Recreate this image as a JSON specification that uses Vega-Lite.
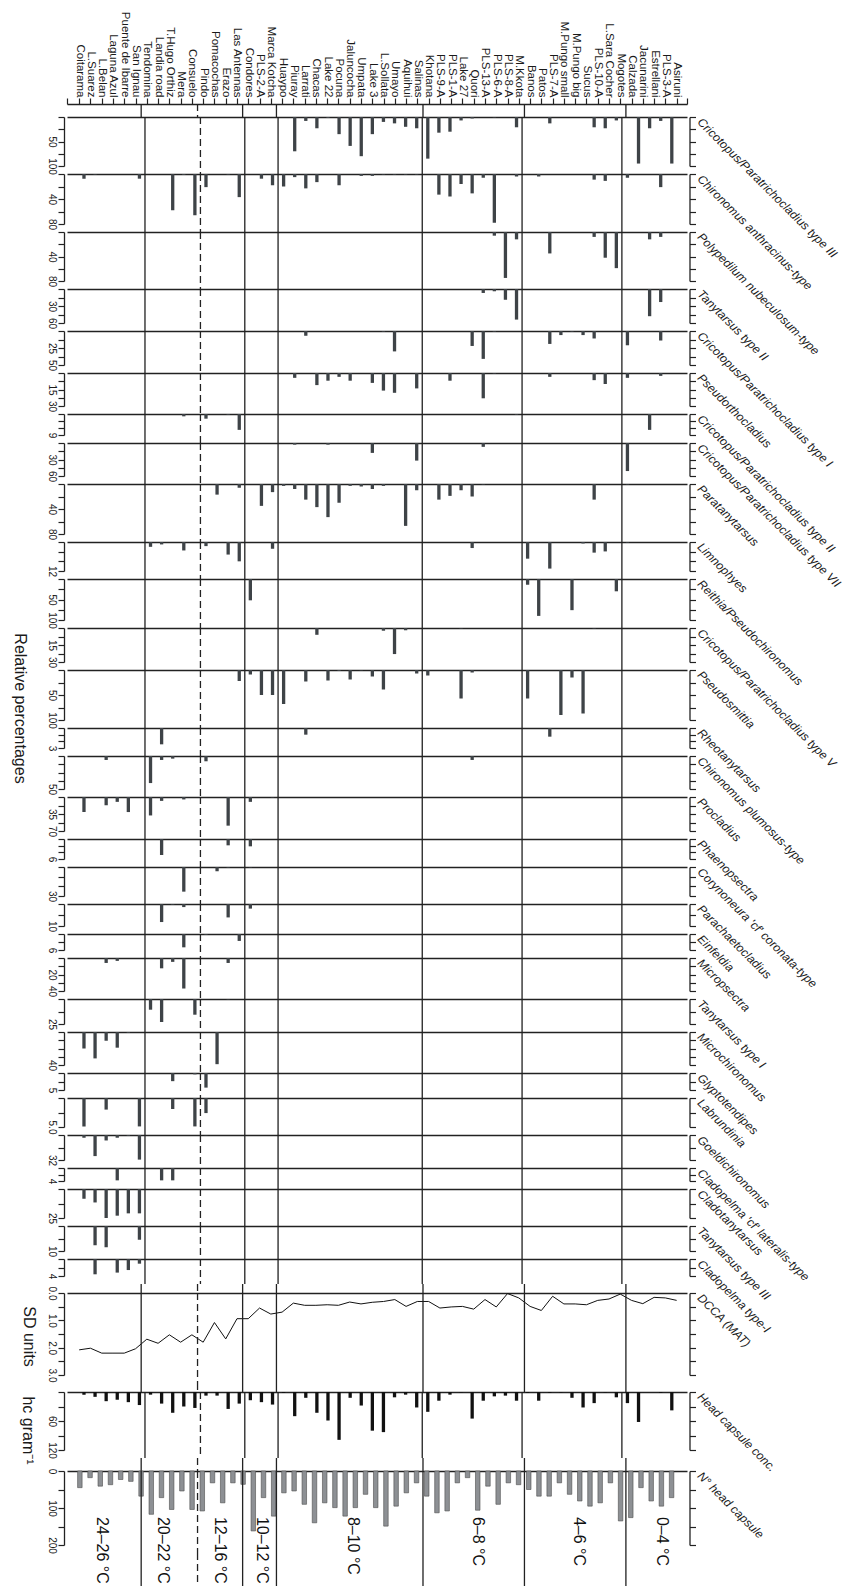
{
"$schema":"https://vega.github.io/schema/vega-lite/v6.json",
"background":"white",
"padding":{"left":10,"top":11,"right":5,"bottom":0},
"spacing":8,
"bounds":"flush",
"resolve":{"scale":{"x":"independent","y":"independent"}},
"data":{"name":"taxa"},
"datasets":{
"div":[{"i":6.5,"d":"s"},{"i":11.5,"d":"d"},{"i":15.5,"d":"s"},{"i":18.5,"d":"s"},{"i":31.5,"d":"s"},{"i":40.5,"d":"s"},{"i":49.5,"d":"s"}],
"zones":[{"zone":"24–26 °C","i":3.0},{"zone":"20–22 °C","i":8.4},{"zone":"12–16 °C","i":13.5},{"zone":"10–12 °C","i":17.2},{"zone":"8–10 °C","i":25.3},{"zone":"6–8 °C","i":36.4},{"zone":"4–6 °C","i":45.3},{"zone":"0–4 °C","i":52.7}],
"dcca":[{"i":1,"sd":2.08},{"i":2,"sd":2.02},{"i":3,"sd":2.2},{"i":4,"sd":2.2},{"i":5,"sd":2.2},{"i":6,"sd":2.04},{"i":7,"sd":1.69},{"i":8,"sd":1.84},{"i":9,"sd":1.53},{"i":10,"sd":1.8},{"i":11,"sd":1.53},{"i":12,"sd":1.8},{"i":13,"sd":1.08},{"i":14,"sd":1.68},{"i":15,"sd":0.94},{"i":16,"sd":0.94},{"i":17,"sd":0.55},{"i":18,"sd":0.77},{"i":19,"sd":0.7},{"i":20,"sd":0.37},{"i":21,"sd":0.45},{"i":22,"sd":0.45},{"i":23,"sd":0.43},{"i":24,"sd":0.45},{"i":25,"sd":0.33},{"i":26,"sd":0.4},{"i":27,"sd":0.34},{"i":28,"sd":0.31},{"i":29,"sd":0.24},{"i":30,"sd":0.49},{"i":31,"sd":0.31},{"i":32,"sd":0.31},{"i":33,"sd":0.55},{"i":34,"sd":0.51},{"i":35,"sd":0.49},{"i":36,"sd":0.59},{"i":37,"sd":0.24},{"i":38,"sd":0.51},{"i":39,"sd":0.02},{"i":40,"sd":0.18},{"i":41,"sd":0.49},{"i":42,"sd":0.64},{"i":43,"sd":0.12},{"i":44,"sd":0.4},{"i":45,"sd":0.4},{"i":46,"sd":0.43},{"i":47,"sd":0.27},{"i":48,"sd":0.22},{"i":49,"sd":0.04},{"i":50,"sd":0.27},{"i":51,"sd":0.39},{"i":52,"sd":0.16},{"i":53,"sd":0.18},{"i":54,"sd":0.27}],
"hc":[{"i":1,"hc":5.5},{"i":2,"hc":10},{"i":3,"hc":19},{"i":4,"hc":16},{"i":5,"hc":21},{"i":6,"hc":27},{"i":7,"hc":5.5},{"i":8,"hc":24},{"i":9,"hc":43},{"i":10,"hc":30},{"i":11,"hc":33},{"i":12,"hc":7.5},{"i":13,"hc":7.5},{"i":14,"hc":35},{"i":15,"hc":24},{"i":16,"hc":17},{"i":17,"hc":21},{"i":18,"hc":26},{"i":19,"hc":2},{"i":20,"hc":50},{"i":21,"hc":12},{"i":22,"hc":43},{"i":23,"hc":59},{"i":24,"hc":99},{"i":25,"hc":12},{"i":26,"hc":28},{"i":27,"hc":80},{"i":28,"hc":83},{"i":29,"hc":11},{"i":30,"hc":5.5},{"i":31,"hc":32},{"i":32,"hc":41},{"i":33,"hc":18},{"i":34,"hc":5.5},{"i":35,"hc":1},{"i":36,"hc":55},{"i":37,"hc":18},{"i":38,"hc":9},{"i":39,"hc":7.5},{"i":40,"hc":18},{"i":41,"hc":2},{"i":42,"hc":18},{"i":43,"hc":2},{"i":44,"hc":1},{"i":45,"hc":12},{"i":46,"hc":32},{"i":47,"hc":23},{"i":48,"hc":1},{"i":49,"hc":11},{"i":50,"hc":23},{"i":51,"hc":62},{"i":53,"hc":2},{"i":54,"hc":38}],
"nhc":[{"k":1,"n":45},{"k":2,"n":18},{"k":3,"n":41},{"k":4,"n":37},{"k":5,"n":23},{"k":6,"n":28},{"k":7,"n":68},{"k":8,"n":117},{"k":9,"n":72},{"k":10,"n":104},{"k":11,"n":54},{"k":12,"n":104},{"k":13,"n":108},{"k":14,"n":32},{"k":15,"n":86},{"k":16,"n":32},{"k":17,"n":36},{"k":18,"n":162},{"k":19,"n":72},{"k":20,"n":122},{"k":21,"n":59},{"k":22,"n":54},{"k":23,"n":90},{"k":24,"n":140},{"k":25,"n":86},{"k":26,"n":99},{"k":27,"n":122},{"k":28,"n":99},{"k":29,"n":63},{"k":30,"n":99},{"k":31,"n":149},{"k":32,"n":95},{"k":33,"n":59},{"k":34,"n":32},{"k":35,"n":68},{"k":36,"n":113},{"k":37,"n":108},{"k":38,"n":32},{"k":39,"n":18},{"k":40,"n":106},{"k":41,"n":41},{"k":42,"n":90},{"k":43,"n":32},{"k":44,"n":37},{"k":45,"n":50},{"k":46,"n":68},{"k":47,"n":68},{"k":48,"n":32},{"k":49,"n":63},{"k":50,"n":81},{"k":51,"n":95},{"k":52,"n":86},{"k":53,"n":32},{"k":54,"n":135},{"k":55,"n":126},{"k":56,"n":45},{"k":57,"n":81},{"k":58,"n":95},{"k":59,"n":72}],
"taxa":[
{"t":"Cricotopus/Paratrichocladius type III","i":20,"v":70},{"t":"Cricotopus/Paratrichocladius type III","i":21,"v":8},{"t":"Cricotopus/Paratrichocladius type III","i":22,"v":23},{"t":"Cricotopus/Paratrichocladius type III","i":23,"v":2},{"t":"Cricotopus/Paratrichocladius type III","i":24,"v":35},{"t":"Cricotopus/Paratrichocladius type III","i":25,"v":59},{"t":"Cricotopus/Paratrichocladius type III","i":26,"v":80},{"t":"Cricotopus/Paratrichocladius type III","i":27,"v":35},{"t":"Cricotopus/Paratrichocladius type III","i":28,"v":10},{"t":"Cricotopus/Paratrichocladius type III","i":29,"v":13},{"t":"Cricotopus/Paratrichocladius type III","i":30,"v":20},{"t":"Cricotopus/Paratrichocladius type III","i":31,"v":23},{"t":"Cricotopus/Paratrichocladius type III","i":32,"v":85},{"t":"Cricotopus/Paratrichocladius type III","i":33,"v":32},{"t":"Cricotopus/Paratrichocladius type III","i":34,"v":30},{"t":"Cricotopus/Paratrichocladius type III","i":35,"v":7},{"t":"Cricotopus/Paratrichocladius type III","i":36,"v":3},{"t":"Cricotopus/Paratrichocladius type III","i":38,"v":1},{"t":"Cricotopus/Paratrichocladius type III","i":40,"v":21},{"t":"Cricotopus/Paratrichocladius type III","i":43,"v":13},{"t":"Cricotopus/Paratrichocladius type III","i":47,"v":21},{"t":"Cricotopus/Paratrichocladius type III","i":48,"v":23},{"t":"Cricotopus/Paratrichocladius type III","i":49,"v":7},{"t":"Cricotopus/Paratrichocladius type III","i":51,"v":95},{"t":"Cricotopus/Paratrichocladius type III","i":52,"v":23},{"t":"Cricotopus/Paratrichocladius type III","i":53,"v":8},{"t":"Cricotopus/Paratrichocladius type III","i":54,"v":95},
{"t":"Chironomus anthracinus-type","i":1,"v":7.5},{"t":"Chironomus anthracinus-type","i":2,"v":1},{"t":"Chironomus anthracinus-type","i":6,"v":7.5},{"t":"Chironomus anthracinus-type","i":9,"v":58},{"t":"Chironomus anthracinus-type","i":10,"v":1.5},{"t":"Chironomus anthracinus-type","i":11,"v":66},{"t":"Chironomus anthracinus-type","i":12,"v":21},{"t":"Chironomus anthracinus-type","i":14,"v":1},{"t":"Chironomus anthracinus-type","i":15,"v":37},{"t":"Chironomus anthracinus-type","i":17,"v":7.5},{"t":"Chironomus anthracinus-type","i":18,"v":18},{"t":"Chironomus anthracinus-type","i":19,"v":20},{"t":"Chironomus anthracinus-type","i":20,"v":5},{"t":"Chironomus anthracinus-type","i":21,"v":23},{"t":"Chironomus anthracinus-type","i":22,"v":13},{"t":"Chironomus anthracinus-type","i":24,"v":18},{"t":"Chironomus anthracinus-type","i":26,"v":3},{"t":"Chironomus anthracinus-type","i":27,"v":3},{"t":"Chironomus anthracinus-type","i":28,"v":1},{"t":"Chironomus anthracinus-type","i":29,"v":1},{"t":"Chironomus anthracinus-type","i":30,"v":1},{"t":"Chironomus anthracinus-type","i":31,"v":1},{"t":"Chironomus anthracinus-type","i":33,"v":33},{"t":"Chironomus anthracinus-type","i":34,"v":36},{"t":"Chironomus anthracinus-type","i":35,"v":16},{"t":"Chironomus anthracinus-type","i":36,"v":31},{"t":"Chironomus anthracinus-type","i":37,"v":6},{"t":"Chironomus anthracinus-type","i":38,"v":78},{"t":"Chironomus anthracinus-type","i":40,"v":4},{"t":"Chironomus anthracinus-type","i":42,"v":4},{"t":"Chironomus anthracinus-type","i":47,"v":9},{"t":"Chironomus anthracinus-type","i":48,"v":11},{"t":"Chironomus anthracinus-type","i":50,"v":6},{"t":"Chironomus anthracinus-type","i":53,"v":21},
{"t":"Polypedilum nubeculosum-type","i":38,"v":6},{"t":"Polypedilum nubeculosum-type","i":39,"v":75},{"t":"Polypedilum nubeculosum-type","i":40,"v":12},{"t":"Polypedilum nubeculosum-type","i":43,"v":35},{"t":"Polypedilum nubeculosum-type","i":47,"v":8},{"t":"Polypedilum nubeculosum-type","i":48,"v":42},{"t":"Polypedilum nubeculosum-type","i":49,"v":59},{"t":"Polypedilum nubeculosum-type","i":52,"v":12},{"t":"Polypedilum nubeculosum-type","i":53,"v":8},
{"t":"Tanytarsus type II","i":37,"v":7},{"t":"Tanytarsus type II","i":38,"v":4},{"t":"Tanytarsus type II","i":39,"v":19},{"t":"Tanytarsus type II","i":40,"v":54},{"t":"Tanytarsus type II","i":52,"v":48},{"t":"Tanytarsus type II","i":53,"v":23},
{"t":"Cricotopus/Paratrichocladius type I","i":21,"v":7},{"t":"Cricotopus/Paratrichocladius type I","i":28,"v":1},{"t":"Cricotopus/Paratrichocladius type I","i":29,"v":30},{"t":"Cricotopus/Paratrichocladius type I","i":36,"v":22},{"t":"Cricotopus/Paratrichocladius type I","i":37,"v":41},{"t":"Cricotopus/Paratrichocladius type I","i":38,"v":1},{"t":"Cricotopus/Paratrichocladius type I","i":43,"v":19},{"t":"Cricotopus/Paratrichocladius type I","i":44,"v":6},{"t":"Cricotopus/Paratrichocladius type I","i":45,"v":1},{"t":"Cricotopus/Paratrichocladius type I","i":46,"v":6},{"t":"Cricotopus/Paratrichocladius type I","i":47,"v":11},{"t":"Cricotopus/Paratrichocladius type I","i":50,"v":21},{"t":"Cricotopus/Paratrichocladius type I","i":53,"v":14},
{"t":"Pseudorthocladius","i":20,"v":4.4},{"t":"Pseudorthocladius","i":22,"v":11},{"t":"Pseudorthocladius","i":23,"v":7},{"t":"Pseudorthocladius","i":24,"v":3.5},{"t":"Pseudorthocladius","i":25,"v":7},{"t":"Pseudorthocladius","i":27,"v":9},{"t":"Pseudorthocladius","i":28,"v":16},{"t":"Pseudorthocladius","i":29,"v":18},{"t":"Pseudorthocladius","i":31,"v":14},{"t":"Pseudorthocladius","i":34,"v":7},{"t":"Pseudorthocladius","i":37,"v":23},{"t":"Pseudorthocladius","i":38,"v":0.5},{"t":"Pseudorthocladius","i":43,"v":3.5},{"t":"Pseudorthocladius","i":47,"v":6.5},{"t":"Pseudorthocladius","i":48,"v":10},{"t":"Pseudorthocladius","i":50,"v":4.4},{"t":"Pseudorthocladius","i":53,"v":2.6},
{"t":"Cricotopus/Paratrichocladius type II","i":10,"v":1},{"t":"Cricotopus/Paratrichocladius type II","i":12,"v":2},{"t":"Cricotopus/Paratrichocladius type II","i":14,"v":0.3},{"t":"Cricotopus/Paratrichocladius type II","i":15,"v":6.8},{"t":"Cricotopus/Paratrichocladius type II","i":40,"v":0.3},{"t":"Cricotopus/Paratrichocladius type II","i":52,"v":6.8},
{"t":"Cricotopus/Paratrichocladius type VII","i":20,"v":3},{"t":"Cricotopus/Paratrichocladius type VII","i":23,"v":3},{"t":"Cricotopus/Paratrichocladius type VII","i":27,"v":18},{"t":"Cricotopus/Paratrichocladius type VII","i":31,"v":32},{"t":"Cricotopus/Paratrichocladius type VII","i":37,"v":7},{"t":"Cricotopus/Paratrichocladius type VII","i":50,"v":51},
{"t":"Paratanytarsus","i":13,"v":17},{"t":"Paratanytarsus","i":15,"v":6},{"t":"Paratanytarsus","i":17,"v":35},{"t":"Paratanytarsus","i":18,"v":13},{"t":"Paratanytarsus","i":19,"v":3},{"t":"Paratanytarsus","i":20,"v":8},{"t":"Paratanytarsus","i":21,"v":25},{"t":"Paratanytarsus","i":22,"v":37},{"t":"Paratanytarsus","i":23,"v":53},{"t":"Paratanytarsus","i":24,"v":30},{"t":"Paratanytarsus","i":25,"v":3},{"t":"Paratanytarsus","i":26,"v":4},{"t":"Paratanytarsus","i":27,"v":8},{"t":"Paratanytarsus","i":28,"v":3},{"t":"Paratanytarsus","i":30,"v":67},{"t":"Paratanytarsus","i":31,"v":10},{"t":"Paratanytarsus","i":33,"v":25},{"t":"Paratanytarsus","i":34,"v":19},{"t":"Paratanytarsus","i":35,"v":10},{"t":"Paratanytarsus","i":36,"v":20},{"t":"Paratanytarsus","i":37,"v":1},{"t":"Paratanytarsus","i":47,"v":25},{"t":"Paratanytarsus","i":50,"v":1},
{"t":"Limnophyes","i":7,"v":2},{"t":"Limnophyes","i":8,"v":1},{"t":"Limnophyes","i":10,"v":3.5},{"t":"Limnophyes","i":12,"v":1.7},{"t":"Limnophyes","i":14,"v":5.2},{"t":"Limnophyes","i":15,"v":8},{"t":"Limnophyes","i":18,"v":2.8},{"t":"Limnophyes","i":36,"v":2.5},{"t":"Limnophyes","i":41,"v":6.9},{"t":"Limnophyes","i":43,"v":11},{"t":"Limnophyes","i":46,"v":0.6},{"t":"Limnophyes","i":47,"v":4.4},{"t":"Limnophyes","i":48,"v":3.9},{"t":"Limnophyes","i":50,"v":0.3},
{"t":"Reithia/Pseudochironomus","i":16,"v":52},{"t":"Reithia/Pseudochironomus","i":41,"v":14},{"t":"Reithia/Pseudochironomus","i":42,"v":90},{"t":"Reithia/Pseudochironomus","i":45,"v":76},{"t":"Reithia/Pseudochironomus","i":49,"v":30},
{"t":"Cricotopus/Paratrichocladius type V","i":22,"v":6},{"t":"Cricotopus/Paratrichocladius type V","i":28,"v":2.4},{"t":"Cricotopus/Paratrichocladius type V","i":29,"v":23},{"t":"Cricotopus/Paratrichocladius type V","i":30,"v":2},{"t":"Cricotopus/Paratrichocladius type V","i":35,"v":0.5},{"t":"Cricotopus/Paratrichocladius type V","i":47,"v":0.5},
{"t":"Pseudosmittia","i":15,"v":22},{"t":"Pseudosmittia","i":16,"v":9},{"t":"Pseudosmittia","i":17,"v":50},{"t":"Pseudosmittia","i":18,"v":50},{"t":"Pseudosmittia","i":19,"v":68},{"t":"Pseudosmittia","i":21,"v":23},{"t":"Pseudosmittia","i":23,"v":21},{"t":"Pseudosmittia","i":24,"v":2},{"t":"Pseudosmittia","i":25,"v":19},{"t":"Pseudosmittia","i":26,"v":1},{"t":"Pseudosmittia","i":27,"v":13},{"t":"Pseudosmittia","i":28,"v":39},{"t":"Pseudosmittia","i":31,"v":7},{"t":"Pseudosmittia","i":32,"v":11},{"t":"Pseudosmittia","i":35,"v":57},{"t":"Pseudosmittia","i":36,"v":5},{"t":"Pseudosmittia","i":41,"v":57},{"t":"Pseudosmittia","i":44,"v":90},{"t":"Pseudosmittia","i":45,"v":15},{"t":"Pseudosmittia","i":46,"v":87},
{"t":"Rheotanytarsus","i":8,"v":2.45},{"t":"Rheotanytarsus","i":21,"v":1},{"t":"Rheotanytarsus","i":43,"v":1.3},
{"t":"Chironomus plumosus-type","i":3,"v":6},{"t":"Chironomus plumosus-type","i":7,"v":41},{"t":"Chironomus plumosus-type","i":8,"v":6},{"t":"Chironomus plumosus-type","i":9,"v":4},{"t":"Chironomus plumosus-type","i":12,"v":8},{"t":"Chironomus plumosus-type","i":36,"v":6},
{"t":"Procladius","i":1,"v":31},{"t":"Procladius","i":3,"v":17},{"t":"Procladius","i":4,"v":10},{"t":"Procladius","i":5,"v":31},{"t":"Procladius","i":7,"v":38},{"t":"Procladius","i":8,"v":8},{"t":"Procladius","i":10,"v":5},{"t":"Procladius","i":14,"v":59},{"t":"Procladius","i":16,"v":10},{"t":"Procladius","i":18,"v":1},
{"t":"Phaenopsectra","i":8,"v":4.8},{"t":"Phaenopsectra","i":14,"v":1.9},{"t":"Phaenopsectra","i":16,"v":2.2},
{"t":"Corynoneura 'cf' coronata-type","i":10,"v":25.5},{"t":"Corynoneura 'cf' coronata-type","i":13,"v":4.4},{"t":"Corynoneura 'cf' coronata-type","i":14,"v":0.7},{"t":"Corynoneura 'cf' coronata-type","i":16,"v":0.5},
{"t":"Parachaetocladius","i":8,"v":8.2},{"t":"Parachaetocladius","i":9,"v":0.3},{"t":"Parachaetocladius","i":10,"v":1.4},{"t":"Parachaetocladius","i":14,"v":6.1},{"t":"Parachaetocladius","i":16,"v":2.1},
{"t":"Einfeldia","i":10,"v":5},{"t":"Einfeldia","i":12,"v":0.3},{"t":"Einfeldia","i":15,"v":2.6},
{"t":"Micropsectra","i":3,"v":6},{"t":"Micropsectra","i":4,"v":3.5},{"t":"Micropsectra","i":8,"v":12.5},{"t":"Micropsectra","i":9,"v":4.7},{"t":"Micropsectra","i":10,"v":37},{"t":"Micropsectra","i":14,"v":6},
{"t":"Tanytarsus type I","i":7,"v":10.7},{"t":"Tanytarsus type I","i":8,"v":23},{"t":"Tanytarsus type I","i":11,"v":15.7},{"t":"Tanytarsus type I","i":14,"v":0.5},
{"t":"Microchironomus","i":1,"v":20},{"t":"Microchironomus","i":2,"v":32},{"t":"Microchironomus","i":3,"v":10.6},{"t":"Microchironomus","i":4,"v":19},{"t":"Microchironomus","i":5,"v":1},{"t":"Microchironomus","i":13,"v":39},
{"t":"Glyptotendipes","i":9,"v":2.4},{"t":"Glyptotendipes","i":11,"v":0.4},{"t":"Glyptotendipes","i":12,"v":4.3},
{"t":"Labrundinia","i":1,"v":4.9},{"t":"Labrundinia","i":3,"v":2},{"t":"Labrundinia","i":6,"v":4.9},{"t":"Labrundinia","i":9,"v":1.9},{"t":"Labrundinia","i":11,"v":4.9},{"t":"Labrundinia","i":12,"v":2.6},
{"t":"Goeldichironomus","i":1,"v":3.5},{"t":"Goeldichironomus","i":2,"v":27},{"t":"Goeldichironomus","i":3,"v":7},{"t":"Goeldichironomus","i":4,"v":3.5},{"t":"Goeldichironomus","i":5,"v":1},{"t":"Goeldichironomus","i":6,"v":31.5},{"t":"Goeldichironomus","i":12,"v":0.5},
{"t":"Cladopelma 'cf' lateralis-type","i":4,"v":3.8},{"t":"Cladopelma 'cf' lateralis-type","i":8,"v":3.8},{"t":"Cladopelma 'cf' lateralis-type","i":9,"v":3.8},
{"t":"Cladotanytarsus","i":1,"v":8.5},{"t":"Cladotanytarsus","i":2,"v":11.6},{"t":"Cladotanytarsus","i":3,"v":25},{"t":"Cladotanytarsus","i":4,"v":23},{"t":"Cladotanytarsus","i":5,"v":21},{"t":"Cladotanytarsus","i":6,"v":21},
{"t":"Tanytarsus type III","i":2,"v":7.7},{"t":"Tanytarsus type III","i":3,"v":8.5},{"t":"Tanytarsus type III","i":6,"v":5.5},
{"t":"Cladopelma type-I","i":2,"v":3.6},{"t":"Cladopelma type-I","i":4,"v":3.2},{"t":"Cladopelma type-I","i":5,"v":2.6},{"t":"Cladopelma type-I","i":6,"v":1.1}
]},
"config":{
"font":"Liberation Sans",
"view":{"stroke":null,"continuousWidth":620},
"axis":{"grid":false,"domainColor":"#222","tickColor":"#222","domainWidth":1.3,"tickWidth":1.2,"labelColor":"#1a1a1a","titleColor":"#1a1a1a","titleFontWeight":"normal","labelOverlap":false,"labelBound":false,"labelFlush":false,"labelFont":"Liberation Sans","titleFont":"Liberation Sans"},
"axisTop":{"ticks":false,"labels":false},
"axisLeft":{"offset":3,"tickSize":6,"labelAngle":90,"labelAlign":"center","labelBaseline":"top","labelPadding":2,"labelFontSize":10,"titleAngle":90,"titleAlign":"center","titleBaseline":"middle","titleFontSize":16},
"axisRight":{"offset":2.5,"tickSize":6,"labels":false,"titleAngle":45,"titleAlign":"left","titleBaseline":"top","titleX":13,"titleY":-1,"titleFontSize":12,"titleFontStyle":"italic"}
},
"vconcat":[
{"height":5,"data":{"name":"div"},"mark":{"type":"rule","y2Offset":8,"color":"#222","strokeWidth":1.3},"encoding":{"x":{"field":"i","type":"quantitative","scale":{"domain":[-0.08,54.92],"nice":false,"zero":false},"axis":{"orient":"top","title":null,"ticks":true,"labels":true,"tickSize":6,"values":[-0.08,1,2,3,4,5,6,7,8,9,10,11,12,13,14,15,16,17,18,19,20,21,22,23,24,25,26,27,28,29,30,31,32,33,34,35,36,37,38,39,40,41,42,43,44,45,46,47,48,49,50,51,52,53,54,54.92],"labelAngle":90,"labelAlign":"right","labelBaseline":"middle","labelPadding":1,"labelFontSize":11.5,"labelExpr":"datum.value%1!=0?'':['Coitarama','L.Suarez','L.Belan','Laguna Azul','Puente de Ibarre','San Ignau','Tendomina','Landia road','T.Hugo Orthiz','Mera','Consuelo','Pindo','Pomacochas','Erazo','Las Antennas','Condores','PLS-2-A','Marca Kotcha','Huaypo','Piuray','Larrati','Chacas','Lake 22','Pocuna','Jaluncocha','Umpata','Lake 3','L.Sollata','Umayo','Aquihui','Salinas','Khotana','PLS-9-A','PLS-1-A','Lake 27','Quori','PLS-13-A','PLS-6-A','PLS-8-A','M.Kkota','Banos','Patos','PLS-7-A','M.Pungo small','M.Pungo big','Sucus','PLS-10-A','L.Sara Cocher','Mogotes','Calzada','Jacunarini','Estrellani','PLS-3-A','Asiruni'][datum.value-1]"}},"y2":{"value":"height"},"strokeDash":{"field":"d","type":"nominal","scale":{"domain":["s","d"],"range":[[1,0],[7,4]]},"legend":null}}},

{"height":49,"transform":[{"filter":{"field":"t","equal":"Cricotopus/Paratrichocladius type III"}}],"encoding":{"x":{"field":"i","type":"quantitative","scale":{"domain":[-0.08,54.92],"nice":false,"zero":false},"axis":{"orient":"top","title":null}}},"layer":[{"mark":{"type":"bar","size":3.3,"color":"#3e4347","orient":"vertical"},"encoding":{"y":{"field":"v","type":"quantitative","scale":{"domain":[0,100],"reverse":true,"nice":false},"axis":{"orient":"left","title":null,"values":[0,25,50,75,100],"labelExpr":"datum.value==50||datum.value==100?datum.label:''"}}}},{"mark":{"type":"bar","opacity":0,"orient":"vertical"},"encoding":{"y":{"field":"v","type":"quantitative","axis":{"orient":"right","title":"Cricotopus/Paratrichocladius type III","values":[0,25,50,75,100]}}}},{"data":{"name":"div"},"mark":{"type":"rule","y2Offset":8,"color":"#222","strokeWidth":1.3},"encoding":{"y2":{"value":"height"},"strokeDash":{"field":"d","type":"nominal","scale":{"domain":["s","d"],"range":[[1,0],[7,4]]},"legend":null}}}],"resolve":{"axis":{"y":"independent"}}},

{"height":50,"transform":[{"filter":{"field":"t","equal":"Chironomus anthracinus-type"}}],"encoding":{"x":{"field":"i","type":"quantitative","scale":{"domain":[-0.08,54.92],"nice":false,"zero":false},"axis":{"orient":"top","title":null}}},"layer":[{"mark":{"type":"bar","size":3.3,"color":"#3e4347","orient":"vertical"},"encoding":{"y":{"field":"v","type":"quantitative","scale":{"domain":[0,80],"reverse":true,"nice":false},"axis":{"orient":"left","title":null,"values":[0,20,40,60,80],"labelExpr":"datum.value==40||datum.value==80?datum.label:''"}}}},{"mark":{"type":"bar","opacity":0,"orient":"vertical"},"encoding":{"y":{"field":"v","type":"quantitative","axis":{"orient":"right","title":"Chironomus anthracinus-type","values":[0,20,40,60,80]}}}},{"data":{"name":"div"},"mark":{"type":"rule","y2Offset":8,"color":"#222","strokeWidth":1.3},"encoding":{"y2":{"value":"height"},"strokeDash":{"field":"d","type":"nominal","scale":{"domain":["s","d"],"range":[[1,0],[7,4]]},"legend":null}}}],"resolve":{"axis":{"y":"independent"}}},

{"height":49,"transform":[{"filter":{"field":"t","equal":"Polypedilum nubeculosum-type"}}],"encoding":{"x":{"field":"i","type":"quantitative","scale":{"domain":[-0.08,54.92],"nice":false,"zero":false},"axis":{"orient":"top","title":null}}},"layer":[{"mark":{"type":"bar","size":3.3,"color":"#3e4347","orient":"vertical"},"encoding":{"y":{"field":"v","type":"quantitative","scale":{"domain":[0,80],"reverse":true,"nice":false},"axis":{"orient":"left","title":null,"values":[0,20,40,60,80],"labelExpr":"datum.value==40||datum.value==80?datum.label:''"}}}},{"mark":{"type":"bar","opacity":0,"orient":"vertical"},"encoding":{"y":{"field":"v","type":"quantitative","axis":{"orient":"right","title":"Polypedilum nubeculosum-type","values":[0,20,40,60,80]}}}},{"data":{"name":"div"},"mark":{"type":"rule","y2Offset":8,"color":"#222","strokeWidth":1.3},"encoding":{"y2":{"value":"height"},"strokeDash":{"field":"d","type":"nominal","scale":{"domain":["s","d"],"range":[[1,0],[7,4]]},"legend":null}}}],"resolve":{"axis":{"y":"independent"}}},

{"height":34,"transform":[{"filter":{"field":"t","equal":"Tanytarsus type II"}}],"encoding":{"x":{"field":"i","type":"quantitative","scale":{"domain":[-0.08,54.92],"nice":false,"zero":false},"axis":{"orient":"top","title":null}}},"layer":[{"mark":{"type":"bar","size":3.3,"color":"#3e4347","orient":"vertical"},"encoding":{"y":{"field":"v","type":"quantitative","scale":{"domain":[0,60],"reverse":true,"nice":false},"axis":{"orient":"left","title":null,"values":[0,15,30,45,60],"labelExpr":"datum.value==30||datum.value==60?datum.label:''"}}}},{"mark":{"type":"bar","opacity":0,"orient":"vertical"},"encoding":{"y":{"field":"v","type":"quantitative","axis":{"orient":"right","title":"Tanytarsus type II","values":[0,15,30,45,60]}}}},{"data":{"name":"div"},"mark":{"type":"rule","y2Offset":8,"color":"#222","strokeWidth":1.3},"encoding":{"y2":{"value":"height"},"strokeDash":{"field":"d","type":"nominal","scale":{"domain":["s","d"],"range":[[1,0],[7,4]]},"legend":null}}}],"resolve":{"axis":{"y":"independent"}}},

{"height":34,"transform":[{"filter":{"field":"t","equal":"Cricotopus/Paratrichocladius type I"}}],"encoding":{"x":{"field":"i","type":"quantitative","scale":{"domain":[-0.08,54.92],"nice":false,"zero":false},"axis":{"orient":"top","title":null}}},"layer":[{"mark":{"type":"bar","size":3.3,"color":"#3e4347","orient":"vertical"},"encoding":{"y":{"field":"v","type":"quantitative","scale":{"domain":[0,50],"reverse":true,"nice":false},"axis":{"orient":"left","title":null,"values":[0,12.5,25,37.5,50],"labelExpr":"datum.value==25||datum.value==50?datum.label:''"}}}},{"mark":{"type":"bar","opacity":0,"orient":"vertical"},"encoding":{"y":{"field":"v","type":"quantitative","axis":{"orient":"right","title":"Cricotopus/Paratrichocladius type I","values":[0,12.5,25,37.5,50]}}}},{"data":{"name":"div"},"mark":{"type":"rule","y2Offset":8,"color":"#222","strokeWidth":1.3},"encoding":{"y2":{"value":"height"},"strokeDash":{"field":"d","type":"nominal","scale":{"domain":["s","d"],"range":[[1,0],[7,4]]},"legend":null}}}],"resolve":{"axis":{"y":"independent"}}},

{"height":33,"transform":[{"filter":{"field":"t","equal":"Pseudorthocladius"}}],"encoding":{"x":{"field":"i","type":"quantitative","scale":{"domain":[-0.08,54.92],"nice":false,"zero":false},"axis":{"orient":"top","title":null}}},"layer":[{"mark":{"type":"bar","size":3.3,"color":"#3e4347","orient":"vertical"},"encoding":{"y":{"field":"v","type":"quantitative","scale":{"domain":[0,30],"reverse":true,"nice":false},"axis":{"orient":"left","title":null,"values":[0,7.5,15,22.5,30],"labelExpr":"datum.value==15||datum.value==30?datum.label:''"}}}},{"mark":{"type":"bar","opacity":0,"orient":"vertical"},"encoding":{"y":{"field":"v","type":"quantitative","axis":{"orient":"right","title":"Pseudorthocladius","values":[0,7.5,15,22.5,30]}}}},{"data":{"name":"div"},"mark":{"type":"rule","y2Offset":8,"color":"#222","strokeWidth":1.3},"encoding":{"y2":{"value":"height"},"strokeDash":{"field":"d","type":"nominal","scale":{"domain":["s","d"],"range":[[1,0],[7,4]]},"legend":null}}}],"resolve":{"axis":{"y":"independent"}}},

{"height":21,"transform":[{"filter":{"field":"t","equal":"Cricotopus/Paratrichocladius type II"}}],"encoding":{"x":{"field":"i","type":"quantitative","scale":{"domain":[-0.08,54.92],"nice":false,"zero":false},"axis":{"orient":"top","title":null}}},"layer":[{"mark":{"type":"bar","size":3.3,"color":"#3e4347","orient":"vertical"},"encoding":{"y":{"field":"v","type":"quantitative","scale":{"domain":[0,9],"reverse":true,"nice":false},"axis":{"orient":"left","title":null,"values":[0,3,6,9],"labelExpr":"datum.value==9?datum.label:''"}}}},{"mark":{"type":"bar","opacity":0,"orient":"vertical"},"encoding":{"y":{"field":"v","type":"quantitative","axis":{"orient":"right","title":"Cricotopus/Paratrichocladius type II","values":[0,3,6,9]}}}},{"data":{"name":"div"},"mark":{"type":"rule","y2Offset":8,"color":"#222","strokeWidth":1.3},"encoding":{"y2":{"value":"height"},"strokeDash":{"field":"d","type":"nominal","scale":{"domain":["s","d"],"range":[[1,0],[7,4]]},"legend":null}}}],"resolve":{"axis":{"y":"independent"}}},

{"height":33,"transform":[{"filter":{"field":"t","equal":"Cricotopus/Paratrichocladius type VII"}}],"encoding":{"x":{"field":"i","type":"quantitative","scale":{"domain":[-0.08,54.92],"nice":false,"zero":false},"axis":{"orient":"top","title":null}}},"layer":[{"mark":{"type":"bar","size":3.3,"color":"#3e4347","orient":"vertical"},"encoding":{"y":{"field":"v","type":"quantitative","scale":{"domain":[0,60],"reverse":true,"nice":false},"axis":{"orient":"left","title":null,"values":[0,15,30,45,60],"labelExpr":"datum.value==30||datum.value==60?datum.label:''"}}}},{"mark":{"type":"bar","opacity":0,"orient":"vertical"},"encoding":{"y":{"field":"v","type":"quantitative","axis":{"orient":"right","title":"Cricotopus/Paratrichocladius type VII","values":[0,15,30,45,60]}}}},{"data":{"name":"div"},"mark":{"type":"rule","y2Offset":8,"color":"#222","strokeWidth":1.3},"encoding":{"y2":{"value":"height"},"strokeDash":{"field":"d","type":"nominal","scale":{"domain":["s","d"],"range":[[1,0],[7,4]]},"legend":null}}}],"resolve":{"axis":{"y":"independent"}}},

{"height":50,"transform":[{"filter":{"field":"t","equal":"Paratanytarsus"}}],"encoding":{"x":{"field":"i","type":"quantitative","scale":{"domain":[-0.08,54.92],"nice":false,"zero":false},"axis":{"orient":"top","title":null}}},"layer":[{"mark":{"type":"bar","size":3.3,"color":"#3e4347","orient":"vertical"},"encoding":{"y":{"field":"v","type":"quantitative","scale":{"domain":[0,80],"reverse":true,"nice":false},"axis":{"orient":"left","title":null,"values":[0,20,40,60,80],"labelExpr":"datum.value==40||datum.value==80?datum.label:''"}}}},{"mark":{"type":"bar","opacity":0,"orient":"vertical"},"encoding":{"y":{"field":"v","type":"quantitative","axis":{"orient":"right","title":"Paratanytarsus","values":[0,20,40,60,80]}}}},{"data":{"name":"div"},"mark":{"type":"rule","y2Offset":8,"color":"#222","strokeWidth":1.3},"encoding":{"y2":{"value":"height"},"strokeDash":{"field":"d","type":"nominal","scale":{"domain":["s","d"],"range":[[1,0],[7,4]]},"legend":null}}}],"resolve":{"axis":{"y":"independent"}}},

{"height":29,"transform":[{"filter":{"field":"t","equal":"Limnophyes"}}],"encoding":{"x":{"field":"i","type":"quantitative","scale":{"domain":[-0.08,54.92],"nice":false,"zero":false},"axis":{"orient":"top","title":null}}},"layer":[{"mark":{"type":"bar","size":3.3,"color":"#3e4347","orient":"vertical"},"encoding":{"y":{"field":"v","type":"quantitative","scale":{"domain":[0,12],"reverse":true,"nice":false},"axis":{"orient":"left","title":null,"values":[0,4,8,12],"labelExpr":"datum.value==12?datum.label:''"}}}},{"mark":{"type":"bar","opacity":0,"orient":"vertical"},"encoding":{"y":{"field":"v","type":"quantitative","axis":{"orient":"right","title":"Limnophyes","values":[0,4,8,12]}}}},{"data":{"name":"div"},"mark":{"type":"rule","y2Offset":8,"color":"#222","strokeWidth":1.3},"encoding":{"y2":{"value":"height"},"strokeDash":{"field":"d","type":"nominal","scale":{"domain":["s","d"],"range":[[1,0],[7,4]]},"legend":null}}}],"resolve":{"axis":{"y":"independent"}}},

{"height":41,"transform":[{"filter":{"field":"t","equal":"Reithia/Pseudochironomus"}}],"encoding":{"x":{"field":"i","type":"quantitative","scale":{"domain":[-0.08,54.92],"nice":false,"zero":false},"axis":{"orient":"top","title":null}}},"layer":[{"mark":{"type":"bar","size":3.3,"color":"#3e4347","orient":"vertical"},"encoding":{"y":{"field":"v","type":"quantitative","scale":{"domain":[0,100],"reverse":true,"nice":false},"axis":{"orient":"left","title":null,"values":[0,25,50,75,100],"labelExpr":"datum.value==50||datum.value==100?datum.label:''"}}}},{"mark":{"type":"bar","opacity":0,"orient":"vertical"},"encoding":{"y":{"field":"v","type":"quantitative","axis":{"orient":"right","title":"Reithia/Pseudochironomus","values":[0,25,50,75,100]}}}},{"data":{"name":"div"},"mark":{"type":"rule","y2Offset":8,"color":"#222","strokeWidth":1.3},"encoding":{"y2":{"value":"height"},"strokeDash":{"field":"d","type":"nominal","scale":{"domain":["s","d"],"range":[[1,0],[7,4]]},"legend":null}}}],"resolve":{"axis":{"y":"independent"}}},

{"height":34,"transform":[{"filter":{"field":"t","equal":"Cricotopus/Paratrichocladius type V"}}],"encoding":{"x":{"field":"i","type":"quantitative","scale":{"domain":[-0.08,54.92],"nice":false,"zero":false},"axis":{"orient":"top","title":null}}},"layer":[{"mark":{"type":"bar","size":3.3,"color":"#3e4347","orient":"vertical"},"encoding":{"y":{"field":"v","type":"quantitative","scale":{"domain":[0,30],"reverse":true,"nice":false},"axis":{"orient":"left","title":null,"values":[0,7.5,15,22.5,30],"labelExpr":"datum.value==15||datum.value==30?datum.label:''"}}}},{"mark":{"type":"bar","opacity":0,"orient":"vertical"},"encoding":{"y":{"field":"v","type":"quantitative","axis":{"orient":"right","title":"Cricotopus/Paratrichocladius type V","values":[0,7.5,15,22.5,30]}}}},{"data":{"name":"div"},"mark":{"type":"rule","y2Offset":8,"color":"#222","strokeWidth":1.3},"encoding":{"y2":{"value":"height"},"strokeDash":{"field":"d","type":"nominal","scale":{"domain":["s","d"],"range":[[1,0],[7,4]]},"legend":null}}}],"resolve":{"axis":{"y":"independent"}}},

{"height":50,"transform":[{"filter":{"field":"t","equal":"Pseudosmittia"}}],"encoding":{"x":{"field":"i","type":"quantitative","scale":{"domain":[-0.08,54.92],"nice":false,"zero":false},"axis":{"orient":"top","title":null}}},"layer":[{"mark":{"type":"bar","size":3.3,"color":"#3e4347","orient":"vertical"},"encoding":{"y":{"field":"v","type":"quantitative","scale":{"domain":[0,100],"reverse":true,"nice":false},"axis":{"orient":"left","title":"Relative percentages","titleAngle":90,"titleX":-45,"titleY":38,"values":[0,25,50,75,100],"labelExpr":"datum.value==50||datum.value==100?datum.label:''"}}}},{"mark":{"type":"bar","opacity":0,"orient":"vertical"},"encoding":{"y":{"field":"v","type":"quantitative","axis":{"orient":"right","title":"Pseudosmittia","values":[0,25,50,75,100]}}}},{"data":{"name":"div"},"mark":{"type":"rule","y2Offset":8,"color":"#222","strokeWidth":1.3},"encoding":{"y2":{"value":"height"},"strokeDash":{"field":"d","type":"nominal","scale":{"domain":["s","d"],"range":[[1,0],[7,4]]},"legend":null}}}],"resolve":{"axis":{"y":"independent"}}},

{"height":20,"transform":[{"filter":{"field":"t","equal":"Rheotanytarsus"}}],"encoding":{"x":{"field":"i","type":"quantitative","scale":{"domain":[-0.08,54.92],"nice":false,"zero":false},"axis":{"orient":"top","title":null}}},"layer":[{"mark":{"type":"bar","size":3.3,"color":"#3e4347","orient":"vertical"},"encoding":{"y":{"field":"v","type":"quantitative","scale":{"domain":[0,3],"reverse":true,"nice":false},"axis":{"orient":"left","title":null,"values":[0,1,2,3],"labelExpr":"datum.value==3?datum.label:''"}}}},{"mark":{"type":"bar","opacity":0,"orient":"vertical"},"encoding":{"y":{"field":"v","type":"quantitative","axis":{"orient":"right","title":"Rheotanytarsus","values":[0,1,2,3]}}}},{"data":{"name":"div"},"mark":{"type":"rule","y2Offset":8,"color":"#222","strokeWidth":1.3},"encoding":{"y2":{"value":"height"},"strokeDash":{"field":"d","type":"nominal","scale":{"domain":["s","d"],"range":[[1,0],[7,4]]},"legend":null}}}],"resolve":{"axis":{"y":"independent"}}},

{"height":33,"transform":[{"filter":{"field":"t","equal":"Chironomus plumosus-type"}}],"encoding":{"x":{"field":"i","type":"quantitative","scale":{"domain":[-0.08,54.92],"nice":false,"zero":false},"axis":{"orient":"top","title":null}}},"layer":[{"mark":{"type":"bar","size":3.3,"color":"#3e4347","orient":"vertical"},"encoding":{"y":{"field":"v","type":"quantitative","scale":{"domain":[0,50],"reverse":true,"nice":false},"axis":{"orient":"left","title":null,"values":[0,12.5,25,37.5,50],"labelExpr":"datum.value==50?datum.label:''"}}}},{"mark":{"type":"bar","opacity":0,"orient":"vertical"},"encoding":{"y":{"field":"v","type":"quantitative","axis":{"orient":"right","title":"Chironomus plumosus-type","values":[0,12.5,25,37.5,50]}}}},{"data":{"name":"div"},"mark":{"type":"rule","y2Offset":8,"color":"#222","strokeWidth":1.3},"encoding":{"y2":{"value":"height"},"strokeDash":{"field":"d","type":"nominal","scale":{"domain":["s","d"],"range":[[1,0],[7,4]]},"legend":null}}}],"resolve":{"axis":{"y":"independent"}}},

{"height":34,"transform":[{"filter":{"field":"t","equal":"Procladius"}}],"encoding":{"x":{"field":"i","type":"quantitative","scale":{"domain":[-0.08,54.92],"nice":false,"zero":false},"axis":{"orient":"top","title":null}}},"layer":[{"mark":{"type":"bar","size":3.3,"color":"#3e4347","orient":"vertical"},"encoding":{"y":{"field":"v","type":"quantitative","scale":{"domain":[0,70],"reverse":true,"nice":false},"axis":{"orient":"left","title":null,"values":[0,17.5,35,52.5,70],"labelExpr":"datum.value==35||datum.value==70?datum.label:''"}}}},{"mark":{"type":"bar","opacity":0,"orient":"vertical"},"encoding":{"y":{"field":"v","type":"quantitative","axis":{"orient":"right","title":"Procladius","values":[0,17.5,35,52.5,70]}}}},{"data":{"name":"div"},"mark":{"type":"rule","y2Offset":8,"color":"#222","strokeWidth":1.3},"encoding":{"y2":{"value":"height"},"strokeDash":{"field":"d","type":"nominal","scale":{"domain":["s","d"],"range":[[1,0],[7,4]]},"legend":null}}}],"resolve":{"axis":{"y":"independent"}}},

{"height":20,"transform":[{"filter":{"field":"t","equal":"Phaenopsectra"}}],"encoding":{"x":{"field":"i","type":"quantitative","scale":{"domain":[-0.08,54.92],"nice":false,"zero":false},"axis":{"orient":"top","title":null}}},"layer":[{"mark":{"type":"bar","size":3.3,"color":"#3e4347","orient":"vertical"},"encoding":{"y":{"field":"v","type":"quantitative","scale":{"domain":[0,6],"reverse":true,"nice":false},"axis":{"orient":"left","title":null,"values":[0,2,4,6],"labelExpr":"datum.value==6?datum.label:''"}}}},{"mark":{"type":"bar","opacity":0,"orient":"vertical"},"encoding":{"y":{"field":"v","type":"quantitative","axis":{"orient":"right","title":"Phaenopsectra","values":[0,2,4,6]}}}},{"data":{"name":"div"},"mark":{"type":"rule","y2Offset":8,"color":"#222","strokeWidth":1.3},"encoding":{"y2":{"value":"height"},"strokeDash":{"field":"d","type":"nominal","scale":{"domain":["s","d"],"range":[[1,0],[7,4]]},"legend":null}}}],"resolve":{"axis":{"y":"independent"}}},

{"height":29,"transform":[{"filter":{"field":"t","equal":"Corynoneura 'cf' coronata-type"}}],"encoding":{"x":{"field":"i","type":"quantitative","scale":{"domain":[-0.08,54.92],"nice":false,"zero":false},"axis":{"orient":"top","title":null}}},"layer":[{"mark":{"type":"bar","size":3.3,"color":"#3e4347","orient":"vertical"},"encoding":{"y":{"field":"v","type":"quantitative","scale":{"domain":[0,30],"reverse":true,"nice":false},"axis":{"orient":"left","title":null,"values":[0,10,20,30],"labelExpr":"datum.value==30?datum.label:''"}}}},{"mark":{"type":"bar","opacity":0,"orient":"vertical"},"encoding":{"y":{"field":"v","type":"quantitative","axis":{"orient":"right","title":"Corynoneura 'cf' coronata-type","values":[0,10,20,30]}}}},{"data":{"name":"div"},"mark":{"type":"rule","y2Offset":8,"color":"#222","strokeWidth":1.3},"encoding":{"y2":{"value":"height"},"strokeDash":{"field":"d","type":"nominal","scale":{"domain":["s","d"],"range":[[1,0],[7,4]]},"legend":null}}}],"resolve":{"axis":{"y":"independent"}}},

{"height":22,"transform":[{"filter":{"field":"t","equal":"Parachaetocladius"}}],"encoding":{"x":{"field":"i","type":"quantitative","scale":{"domain":[-0.08,54.92],"nice":false,"zero":false},"axis":{"orient":"top","title":null}}},"layer":[{"mark":{"type":"bar","size":3.3,"color":"#3e4347","orient":"vertical"},"encoding":{"y":{"field":"v","type":"quantitative","scale":{"domain":[0,10],"reverse":true,"nice":false},"axis":{"orient":"left","title":null,"values":[0,5,10],"labelExpr":"datum.value==10?datum.label:''"}}}},{"mark":{"type":"bar","opacity":0,"orient":"vertical"},"encoding":{"y":{"field":"v","type":"quantitative","axis":{"orient":"right","title":"Parachaetocladius","values":[0,5,10]}}}},{"data":{"name":"div"},"mark":{"type":"rule","y2Offset":8,"color":"#222","strokeWidth":1.3},"encoding":{"y2":{"value":"height"},"strokeDash":{"field":"d","type":"nominal","scale":{"domain":["s","d"],"range":[[1,0],[7,4]]},"legend":null}}}],"resolve":{"axis":{"y":"independent"}}},

{"height":16,"transform":[{"filter":{"field":"t","equal":"Einfeldia"}}],"encoding":{"x":{"field":"i","type":"quantitative","scale":{"domain":[-0.08,54.92],"nice":false,"zero":false},"axis":{"orient":"top","title":null}}},"layer":[{"mark":{"type":"bar","size":3.3,"color":"#3e4347","orient":"vertical"},"encoding":{"y":{"field":"v","type":"quantitative","scale":{"domain":[0,6],"reverse":true,"nice":false},"axis":{"orient":"left","title":null,"values":[0,3,6],"labelExpr":"datum.value==6?datum.label:''"}}}},{"mark":{"type":"bar","opacity":0,"orient":"vertical"},"encoding":{"y":{"field":"v","type":"quantitative","axis":{"orient":"right","title":"Einfeldia","values":[0,3,6]}}}},{"data":{"name":"div"},"mark":{"type":"rule","y2Offset":8,"color":"#222","strokeWidth":1.3},"encoding":{"y2":{"value":"height"},"strokeDash":{"field":"d","type":"nominal","scale":{"domain":["s","d"],"range":[[1,0],[7,4]]},"legend":null}}}],"resolve":{"axis":{"y":"independent"}}},

{"height":33,"transform":[{"filter":{"field":"t","equal":"Micropsectra"}}],"encoding":{"x":{"field":"i","type":"quantitative","scale":{"domain":[-0.08,54.92],"nice":false,"zero":false},"axis":{"orient":"top","title":null}}},"layer":[{"mark":{"type":"bar","size":3.3,"color":"#3e4347","orient":"vertical"},"encoding":{"y":{"field":"v","type":"quantitative","scale":{"domain":[0,40],"reverse":true,"nice":false},"axis":{"orient":"left","title":null,"values":[0,10,20,30,40],"labelExpr":"datum.value==20||datum.value==40?datum.label:''"}}}},{"mark":{"type":"bar","opacity":0,"orient":"vertical"},"encoding":{"y":{"field":"v","type":"quantitative","axis":{"orient":"right","title":"Micropsectra","values":[0,10,20,30,40]}}}},{"data":{"name":"div"},"mark":{"type":"rule","y2Offset":8,"color":"#222","strokeWidth":1.3},"encoding":{"y2":{"value":"height"},"strokeDash":{"field":"d","type":"nominal","scale":{"domain":["s","d"],"range":[[1,0],[7,4]]},"legend":null}}}],"resolve":{"axis":{"y":"independent"}}},

{"height":25,"transform":[{"filter":{"field":"t","equal":"Tanytarsus type I"}}],"encoding":{"x":{"field":"i","type":"quantitative","scale":{"domain":[-0.08,54.92],"nice":false,"zero":false},"axis":{"orient":"top","title":null}}},"layer":[{"mark":{"type":"bar","size":3.3,"color":"#3e4347","orient":"vertical"},"encoding":{"y":{"field":"v","type":"quantitative","scale":{"domain":[0,25],"reverse":true,"nice":false},"axis":{"orient":"left","title":null,"values":[0,12.5,25],"labelExpr":"datum.value==25?datum.label:''"}}}},{"mark":{"type":"bar","opacity":0,"orient":"vertical"},"encoding":{"y":{"field":"v","type":"quantitative","axis":{"orient":"right","title":"Tanytarsus type I","values":[0,12.5,25]}}}},{"data":{"name":"div"},"mark":{"type":"rule","y2Offset":8,"color":"#222","strokeWidth":1.3},"encoding":{"y2":{"value":"height"},"strokeDash":{"field":"d","type":"nominal","scale":{"domain":["s","d"],"range":[[1,0],[7,4]]},"legend":null}}}],"resolve":{"axis":{"y":"independent"}}},

{"height":33,"transform":[{"filter":{"field":"t","equal":"Microchironomus"}}],"encoding":{"x":{"field":"i","type":"quantitative","scale":{"domain":[-0.08,54.92],"nice":false,"zero":false},"axis":{"orient":"top","title":null}}},"layer":[{"mark":{"type":"bar","size":3.3,"color":"#3e4347","orient":"vertical"},"encoding":{"y":{"field":"v","type":"quantitative","scale":{"domain":[0,40],"reverse":true,"nice":false},"axis":{"orient":"left","title":null,"values":[0,10,20,30,40],"labelExpr":"datum.value==40?datum.label:''"}}}},{"mark":{"type":"bar","opacity":0,"orient":"vertical"},"encoding":{"y":{"field":"v","type":"quantitative","axis":{"orient":"right","title":"Microchironomus","values":[0,10,20,30,40]}}}},{"data":{"name":"div"},"mark":{"type":"rule","y2Offset":8,"color":"#222","strokeWidth":1.3},"encoding":{"y2":{"value":"height"},"strokeDash":{"field":"d","type":"nominal","scale":{"domain":["s","d"],"range":[[1,0],[7,4]]},"legend":null}}}],"resolve":{"axis":{"y":"independent"}}},

{"height":17,"transform":[{"filter":{"field":"t","equal":"Glyptotendipes"}}],"encoding":{"x":{"field":"i","type":"quantitative","scale":{"domain":[-0.08,54.92],"nice":false,"zero":false},"axis":{"orient":"top","title":null}}},"layer":[{"mark":{"type":"bar","size":3.3,"color":"#3e4347","orient":"vertical"},"encoding":{"y":{"field":"v","type":"quantitative","scale":{"domain":[0,5],"reverse":true,"nice":false},"axis":{"orient":"left","title":null,"values":[0,2.5,5],"labelExpr":"datum.value==5?datum.label:''"}}}},{"mark":{"type":"bar","opacity":0,"orient":"vertical"},"encoding":{"y":{"field":"v","type":"quantitative","axis":{"orient":"right","title":"Glyptotendipes","values":[0,2.5,5]}}}},{"data":{"name":"div"},"mark":{"type":"rule","y2Offset":8,"color":"#222","strokeWidth":1.3},"encoding":{"y2":{"value":"height"},"strokeDash":{"field":"d","type":"nominal","scale":{"domain":["s","d"],"range":[[1,0],[7,4]]},"legend":null}}}],"resolve":{"axis":{"y":"independent"}}},

{"height":29,"transform":[{"filter":{"field":"t","equal":"Labrundinia"}}],"encoding":{"x":{"field":"i","type":"quantitative","scale":{"domain":[-0.08,54.92],"nice":false,"zero":false},"axis":{"orient":"top","title":null}}},"layer":[{"mark":{"type":"bar","size":3.3,"color":"#3e4347","orient":"vertical"},"encoding":{"y":{"field":"v","type":"quantitative","scale":{"domain":[0,5],"reverse":true,"nice":false},"axis":{"orient":"left","title":null,"values":[0,2.5,5],"labelExpr":"datum.value==5?'5.0':''"}}}},{"mark":{"type":"bar","opacity":0,"orient":"vertical"},"encoding":{"y":{"field":"v","type":"quantitative","axis":{"orient":"right","title":"Labrundinia","values":[0,2.5,5]}}}},{"data":{"name":"div"},"mark":{"type":"rule","y2Offset":8,"color":"#222","strokeWidth":1.3},"encoding":{"y2":{"value":"height"},"strokeDash":{"field":"d","type":"nominal","scale":{"domain":["s","d"],"range":[[1,0],[7,4]]},"legend":null}}}],"resolve":{"axis":{"y":"independent"}}},

{"height":25,"transform":[{"filter":{"field":"t","equal":"Goeldichironomus"}}],"encoding":{"x":{"field":"i","type":"quantitative","scale":{"domain":[-0.08,54.92],"nice":false,"zero":false},"axis":{"orient":"top","title":null}}},"layer":[{"mark":{"type":"bar","size":3.3,"color":"#3e4347","orient":"vertical"},"encoding":{"y":{"field":"v","type":"quantitative","scale":{"domain":[0,32],"reverse":true,"nice":false},"axis":{"orient":"left","title":null,"values":[0,16,32],"labelExpr":"datum.value==32?datum.label:''"}}}},{"mark":{"type":"bar","opacity":0,"orient":"vertical"},"encoding":{"y":{"field":"v","type":"quantitative","axis":{"orient":"right","title":"Goeldichironomus","values":[0,16,32]}}}},{"data":{"name":"div"},"mark":{"type":"rule","y2Offset":8,"color":"#222","strokeWidth":1.3},"encoding":{"y2":{"value":"height"},"strokeDash":{"field":"d","type":"nominal","scale":{"domain":["s","d"],"range":[[1,0],[7,4]]},"legend":null}}}],"resolve":{"axis":{"y":"independent"}}},

{"height":13,"transform":[{"filter":{"field":"t","equal":"Cladopelma 'cf' lateralis-type"}}],"encoding":{"x":{"field":"i","type":"quantitative","scale":{"domain":[-0.08,54.92],"nice":false,"zero":false},"axis":{"orient":"top","title":null}}},"layer":[{"mark":{"type":"bar","size":3.3,"color":"#3e4347","orient":"vertical"},"encoding":{"y":{"field":"v","type":"quantitative","scale":{"domain":[0,4],"reverse":true,"nice":false},"axis":{"orient":"left","title":null,"values":[0,2,4],"labelExpr":"datum.value==4?datum.label:''"}}}},{"mark":{"type":"bar","opacity":0,"orient":"vertical"},"encoding":{"y":{"field":"v","type":"quantitative","axis":{"orient":"right","title":"Cladopelma 'cf' lateralis-type","values":[0,2,4]}}}},{"data":{"name":"div"},"mark":{"type":"rule","y2Offset":8,"color":"#222","strokeWidth":1.3},"encoding":{"y2":{"value":"height"},"strokeDash":{"field":"d","type":"nominal","scale":{"domain":["s","d"],"range":[[1,0],[7,4]]},"legend":null}}}],"resolve":{"axis":{"y":"independent"}}},

{"height":29,"transform":[{"filter":{"field":"t","equal":"Cladotanytarsus"}}],"encoding":{"x":{"field":"i","type":"quantitative","scale":{"domain":[-0.08,54.92],"nice":false,"zero":false},"axis":{"orient":"top","title":null}}},"layer":[{"mark":{"type":"bar","size":3.3,"color":"#3e4347","orient":"vertical"},"encoding":{"y":{"field":"v","type":"quantitative","scale":{"domain":[0,25],"reverse":true,"nice":false},"axis":{"orient":"left","title":null,"values":[0,12.5,25],"labelExpr":"datum.value==25?datum.label:''"}}}},{"mark":{"type":"bar","opacity":0,"orient":"vertical"},"encoding":{"y":{"field":"v","type":"quantitative","axis":{"orient":"right","title":"Cladotanytarsus","values":[0,12.5,25]}}}},{"data":{"name":"div"},"mark":{"type":"rule","y2Offset":8,"color":"#222","strokeWidth":1.3},"encoding":{"y2":{"value":"height"},"strokeDash":{"field":"d","type":"nominal","scale":{"domain":["s","d"],"range":[[1,0],[7,4]]},"legend":null}}}],"resolve":{"axis":{"y":"independent"}}},

{"height":25,"transform":[{"filter":{"field":"t","equal":"Tanytarsus type III"}}],"encoding":{"x":{"field":"i","type":"quantitative","scale":{"domain":[-0.08,54.92],"nice":false,"zero":false},"axis":{"orient":"top","title":null}}},"layer":[{"mark":{"type":"bar","size":3.3,"color":"#3e4347","orient":"vertical"},"encoding":{"y":{"field":"v","type":"quantitative","scale":{"domain":[0,10],"reverse":true,"nice":false},"axis":{"orient":"left","title":null,"values":[0,5,10],"labelExpr":"datum.value==10?datum.label:''"}}}},{"mark":{"type":"bar","opacity":0,"orient":"vertical"},"encoding":{"y":{"field":"v","type":"quantitative","axis":{"orient":"right","title":"Tanytarsus type III","values":[0,5,10]}}}},{"data":{"name":"div"},"mark":{"type":"rule","y2Offset":8,"color":"#222","strokeWidth":1.3},"encoding":{"y2":{"value":"height"},"strokeDash":{"field":"d","type":"nominal","scale":{"domain":["s","d"],"range":[[1,0],[7,4]]},"legend":null}}}],"resolve":{"axis":{"y":"independent"}}},

{"height":17,"transform":[{"filter":{"field":"t","equal":"Cladopelma type-I"}}],"encoding":{"x":{"field":"i","type":"quantitative","scale":{"domain":[-0.08,54.92],"nice":false,"zero":false},"axis":{"orient":"top","title":null}}},"layer":[{"mark":{"type":"bar","size":3.3,"color":"#3e4347","orient":"vertical"},"encoding":{"y":{"field":"v","type":"quantitative","scale":{"domain":[0,4],"reverse":true,"nice":false},"axis":{"orient":"left","title":null,"values":[0,2,4],"labelExpr":"datum.value==4?datum.label:''"}}}},{"mark":{"type":"bar","opacity":0,"orient":"vertical"},"encoding":{"y":{"field":"v","type":"quantitative","axis":{"orient":"right","title":"Cladopelma type-I","values":[0,2,4]}}}},{"data":{"name":"div"},"mark":{"type":"rule","y2Offset":8,"color":"#222","strokeWidth":1.3},"encoding":{"y2":{"value":"height"},"strokeDash":{"field":"d","type":"nominal","scale":{"domain":["s","d"],"range":[[1,0],[7,4]]},"legend":null}}}],"resolve":{"axis":{"y":"independent"}}},

{"height":1,"data":{"name":"div"},"mark":{"type":"rule","y2Offset":8,"color":"#222","strokeWidth":1.3},"encoding":{"x":{"field":"i","type":"quantitative","scale":{"domain":[-0.08,54.92],"nice":false,"zero":false},"axis":null},"y2":{"value":"height"},"strokeDash":{"field":"d","type":"nominal","scale":{"domain":["s","d"],"range":[[1,0],[7,4]]},"legend":null}}},

{"height":82,"data":{"name":"dcca"},"encoding":{"x":{"field":"i","type":"quantitative","scale":{"domain":[-0.08,54.92],"nice":false,"zero":false},"axis":{"orient":"top","title":null}}},"layer":[{"mark":{"type":"line","color":"#111","strokeWidth":1},"encoding":{"y":{"field":"sd","type":"quantitative","scale":{"domain":[0,3],"reverse":true,"nice":false,"zero":false},"axis":{"orient":"left","title":"SD units","titleAngle":90,"titleX":-36,"titleY":43,"values":[0,0.5,1,1.5,2,2.5,3],"labelExpr":"datum.value%1==0?format(datum.value,'.1f'):''"}}}},{"mark":{"type":"line","opacity":0},"encoding":{"y":{"field":"sd","type":"quantitative","axis":{"orient":"right","title":"DCCA (MAT)","values":[0,0.5,1,1.5,2,2.5,3]}}}},{"data":{"name":"div"},"mark":{"type":"rule","y2Offset":8,"color":"#222","strokeWidth":1.3},"encoding":{"y2":{"value":"height"},"strokeDash":{"field":"d","type":"nominal","scale":{"domain":["s","d"],"range":[[1,0],[7,4]]},"legend":null}}}],"resolve":{"axis":{"y":"independent"}}},

{"height":1,"data":{"name":"div"},"mark":{"type":"rule","y2Offset":8,"color":"#222","strokeWidth":1.3},"encoding":{"x":{"field":"i","type":"quantitative","scale":{"domain":[-0.08,54.92],"nice":false,"zero":false},"axis":null},"y2":{"value":"height"},"strokeDash":{"field":"d","type":"nominal","scale":{"domain":["s","d"],"range":[[1,0],[7,4]]},"legend":null}}},

{"height":58,"data":{"name":"hc"},"encoding":{"x":{"field":"i","type":"quantitative","scale":{"domain":[-0.08,54.92],"nice":false,"zero":false},"axis":{"orient":"top","title":null}}},"layer":[{"mark":{"type":"bar","size":3.3,"color":"#111","orient":"vertical"},"encoding":{"y":{"field":"hc","type":"quantitative","scale":{"domain":[0,120],"reverse":true,"nice":false},"axis":{"orient":"left","title":"hc gram⁻¹","titleAngle":90,"titleX":-37,"titleY":38,"values":[0,30,60,90,120],"labelExpr":"datum.value==60||datum.value==120?datum.label:''"}}}},{"mark":{"type":"bar","opacity":0,"orient":"vertical"},"encoding":{"y":{"field":"hc","type":"quantitative","axis":{"orient":"right","title":"Head capsule conc.","values":[0,30,60,90,120]}}}},{"data":{"name":"div"},"mark":{"type":"rule","y2Offset":8,"color":"#222","strokeWidth":1.3},"encoding":{"y2":{"value":"height"},"strokeDash":{"field":"d","type":"nominal","scale":{"domain":["s","d"],"range":[[1,0],[7,4]]},"legend":null}}}],"resolve":{"axis":{"y":"independent"}}},

{"height":5,"data":{"name":"div"},"mark":{"type":"rule","y2Offset":8,"color":"#222","strokeWidth":1.3},"encoding":{"x":{"field":"i","type":"quantitative","scale":{"domain":[-0.08,54.92],"nice":false,"zero":false},"axis":null},"y2":{"value":"height"},"strokeDash":{"field":"d","type":"nominal","scale":{"domain":["s","d"],"range":[[1,0],[7,4]]},"legend":null}}},

{"height":74,"data":{"name":"nhc"},"layer":[
{"mark":{"type":"bar","size":4.5,"color":"#8d9094","stroke":"#4d4d4d","strokeWidth":0.6,"orient":"vertical"},"encoding":{"x":{"field":"k","type":"quantitative","scale":{"domain":[0.23,60.02],"nice":false,"zero":false},"axis":{"orient":"top","title":null}},"y":{"field":"n","type":"quantitative","scale":{"domain":[0,200],"reverse":true,"nice":false},"axis":{"orient":"left","title":null,"values":[0,50,100,150,200],"labelExpr":"datum.value%100==0?datum.label:''"}}}},
{"mark":{"type":"bar","opacity":0,"orient":"vertical"},"encoding":{"x":{"field":"k","type":"quantitative","scale":{"domain":[0.23,60.02],"nice":false,"zero":false},"axis":null},"y":{"field":"n","type":"quantitative","axis":{"orient":"right","title":"N° head capsule","values":[0,50,100,150,200]}}}},
{"data":{"name":"div"},"mark":{"type":"rule","y2Offset":8,"color":"#222","strokeWidth":1.3},"encoding":{"x":{"field":"i","type":"quantitative","scale":{"domain":[-0.08,54.92],"nice":false,"zero":false},"axis":null},"y2":{"value":"height"},"strokeDash":{"field":"d","type":"nominal","scale":{"domain":["s","d"],"range":[[1,0],[7,4]]},"legend":null}}},
{"data":{"name":"zones"},"mark":{"type":"text","angle":90,"align":"left","baseline":"middle","fontSize":16,"color":"#111"},"encoding":{"x":{"field":"i","type":"quantitative","scale":{"domain":[-0.08,54.92],"nice":false,"zero":false},"axis":null},"y":{"datum":124,"type":"quantitative","axis":null},"text":{"field":"zone"}}}
],"resolve":{"scale":{"x":"independent"},"axis":{"x":"independent","y":"independent"}}},

{"height":40,"data":{"name":"div"},"mark":{"type":"rule","color":"#222","strokeWidth":1.3},"encoding":{"x":{"field":"i","type":"quantitative","scale":{"domain":[-0.08,54.92],"nice":false,"zero":false},"axis":null},"y2":{"value":"height"},"strokeDash":{"field":"d","type":"nominal","scale":{"domain":["s","d"],"range":[[1,0],[7,4]]},"legend":null}}}
]
}
